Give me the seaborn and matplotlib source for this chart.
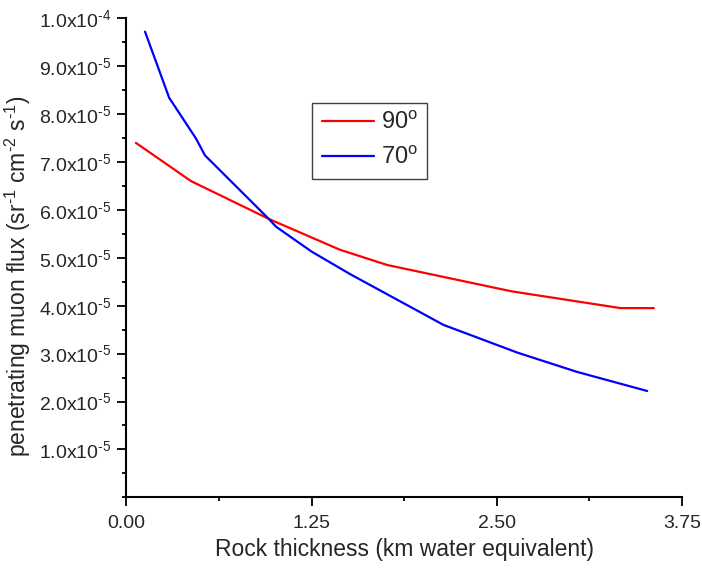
import matplotlib
matplotlib.use("Agg")
import matplotlib.pyplot as plt
from matplotlib.ticker import MultipleLocator, FixedLocator, FixedFormatter
import seaborn as sns
import pandas as pd

# Rock thickness (km w.e.) and penetrating muon flux (x1e-5 sr^-1 cm^-2 s^-1)
depth_90 = [0.064, 0.437, 0.97, 1.44, 1.76, 2.60, 3.335, 3.56]
flux_90 = [7.40, 6.60, 5.80, 5.17, 4.85, 4.30, 3.95, 3.95]

depth_70 = [0.126, 0.289, 0.47, 0.53, 0.965, 1.01, 1.25, 1.51, 2.14, 2.64, 3.04, 3.515]
flux_70 = [9.72, 8.34, 7.49, 7.14, 5.80, 5.65, 5.13, 4.66, 3.60, 3.02, 2.62, 2.22]

series_labels = ["90$^{\\text{o}}$", "70$^{\\text{o}}$"]
x_ticks = [0.00, 1.25, 2.50, 3.75]
x_tick_labels = ["0.00", "1.25", "2.50", "3.75"]
y_ticks = [1.0e-5, 2.0e-5, 3.0e-5, 4.0e-5, 5.0e-5, 6.0e-5, 7.0e-5, 8.0e-5, 9.0e-5, 1.0e-4]
y_tick_labels = ["1.0x10$^{\\text{-5}}$", "2.0x10$^{\\text{-5}}$",
                 "3.0x10$^{\\text{-5}}$", "4.0x10$^{\\text{-5}}$",
                 "5.0x10$^{\\text{-5}}$", "6.0x10$^{\\text{-5}}$",
                 "7.0x10$^{\\text{-5}}$", "8.0x10$^{\\text{-5}}$",
                 "9.0x10$^{\\text{-5}}$", "1.0x10$^{\\text{-4}}$"]

df = pd.concat([
    pd.DataFrame({"depth": depth_90, "flux": [v * 1e-5 for v in flux_90], "angle": series_labels[0]}),
    pd.DataFrame({"depth": depth_70, "flux": [v * 1e-5 for v in flux_70], "angle": series_labels[1]}),
], ignore_index=True)

sns.set_style("ticks")
plt.rcParams["font.family"] = ["Liberation Sans", "DejaVu Sans"]
plt.rcParams["mathtext.fontset"] = "custom"
plt.rcParams["mathtext.rm"] = "Liberation Sans"
plt.rcParams["mathtext.it"] = "Liberation Sans:italic"

fig = plt.figure(figsize=(7.02, 5.71), dpi=100)
ax = fig.add_axes([0.180, 0.129, 0.7915, 0.839])

sns.lineplot(data=df, x="depth", y="flux", hue="angle", sort=False,
             palette={series_labels[0]: "#ff0000", series_labels[1]: "#0000ff"},
             linewidth=1.6, ax=ax)

ax.set_xlim(0, 3.75)
ax.set_ylim(0, 1.0e-4)

ax.xaxis.set_major_locator(FixedLocator(x_ticks))
ax.xaxis.set_major_formatter(FixedFormatter(x_tick_labels))
ax.xaxis.set_minor_locator(MultipleLocator(0.625))
ax.yaxis.set_major_locator(FixedLocator(y_ticks))
ax.yaxis.set_major_formatter(FixedFormatter(y_tick_labels))
ax.yaxis.set_minor_locator(MultipleLocator(0.5e-5))

ax.tick_params(which="major", length=6.5, width=1.3, labelsize=14, direction="out", color="black")
ax.tick_params(which="minor", length=3, width=1.3, direction="out", color="black")
ax.tick_params(axis="x", pad=6)
ax.tick_params(axis="y", pad=4)

for side in ("top", "right"):
    ax.spines[side].set_visible(False)
for side in ("left", "bottom"):
    ax.spines[side].set_linewidth(1.5)
    ax.spines[side].set_color("black")

ax.set_xlabel("Rock thickness (km water equivalent)", fontsize=16.5)
ax.set_ylabel("penetrating muon flux (sr$^{\\text{-1}}$ cm$^{\\text{-2}}$ s$^{\\text{-1}}$)",
              fontsize=16.5)
ax.xaxis.set_label_coords(0.5, -0.085)
ax.yaxis.set_label_coords(-0.168, 0.462)

leg = ax.legend(title=None, loc="upper left", bbox_to_anchor=(0.335, 0.824),
                borderaxespad=0, fontsize=17, frameon=True, fancybox=False,
                handlelength=2.2, handletextpad=0.3, borderpad=0.4, labelspacing=0.55)
leg.get_frame().set_edgecolor("#404040")
leg.get_frame().set_linewidth(1.0)
leg.get_frame().set_alpha(1)

fig.savefig("out.png", dpi=100)
